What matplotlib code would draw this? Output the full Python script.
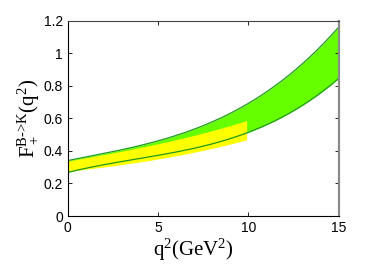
import numpy as np
import matplotlib
matplotlib.use("Agg")
import matplotlib.pyplot as plt

plt.rcParams['font.family'] = ['Liberation Sans', 'DejaVu Sans']
plt.rcParams['mathtext.fontset'] = 'custom'
plt.rcParams['mathtext.rm'] = 'Liberation Serif'
plt.rcParams['mathtext.it'] = 'Liberation Serif:italic'

# Banda verde (q^2 de 0 a 15)
q_green = [0, 2.5, 5, 7.5, 10, 12.5, 15]
green_upper = [0.340, 0.395, 0.462, 0.555, 0.690, 0.890, 1.160]
green_lower = [0.272, 0.315, 0.372, 0.440, 0.515, 0.635, 0.850]

# Banda amarilla (q^2 de 0 a ~9.9)
q_yellow = [0, 2.5, 5, 7.5, 9.9]
yellow_upper = [0.337, 0.388, 0.443, 0.510, 0.586]
yellow_lower = [0.274, 0.308, 0.350, 0.403, 0.468]

# Interpolacion suave solo para el trazado
def smooth(xs, ys, n=200):
    xx = np.linspace(xs[0], xs[-1], n)
    coef = np.polyfit(xs, ys, 3)
    return xx, np.polyval(coef, xx)

fig = plt.figure(figsize=(3.74, 2.70), dpi=100)
ax = fig.add_axes([0.181, 0.2, 0.725, 0.724])

xg, gu = smooth(q_green, green_upper)
_, gl = smooth(q_green, green_lower)
xy, yu = smooth(q_yellow, yellow_upper)
_, yl = smooth(q_yellow, yellow_lower)

ax.fill_between(xg, gl, gu, color='#66ff00', lw=0)
ax.fill_between(xy, yl, yu, color='#ffff00', lw=0)
ax.plot(xg, gu, color='#1f9a1f', lw=0.9)
ax.plot(xg, gl, color='#1f9a1f', lw=0.9)

ax.set_xlim(0, 15)
ax.set_ylim(0, 1.2)
ax.set_xticks([0, 5, 10, 15])
ax.set_yticks([0, 0.2, 0.4, 0.6, 0.8, 1.0, 1.2])
ax.set_yticklabels(['0', '0.2', '0.4', '0.6', '0.8', '1', '1.2'])
ax.tick_params(direction='in', top=True, right=True, labelsize=10, length=3, width=0.6)
for s in ax.spines.values():
    s.set_linewidth(0.8)
ax.spines['right'].set_color('#8a8a8a')
ax.spines['right'].set_linewidth(1.6)
ax.spines['top'].set_color('#444444')

ax.set_xlabel(r'$\mathrm{q^2(GeV^2)}$', fontsize=15)
ax.xaxis.set_label_coords(0.465, -0.105, transform=ax.transAxes)
ax.xaxis.label.set_va('top')
ax.set_ylabel(r'$\mathrm{F_+^{\text{B->K}}(q^2)}$', fontsize=15, labelpad=1)

fig.savefig('out.png', dpi=100)
